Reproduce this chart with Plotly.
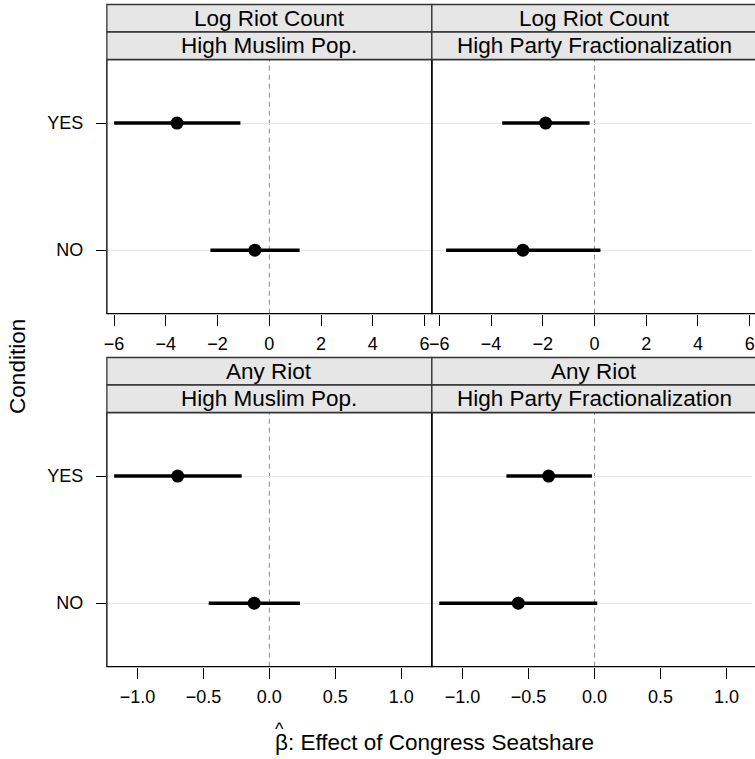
import plotly.graph_objects as go

# ---------------- data ----------------
panel_outcomes = ["Log Riot Count", "Log Riot Count", "Any Riot", "Any Riot"]
panel_conditions = ["High Muslim Pop.", "High Party Fractionalization",
                    "High Muslim Pop.", "High Party Fractionalization"]
levels = ["NO", "YES"]

est_no = [-0.56, -2.77, -0.115, -0.578]
lo_no = [-2.28, -5.74, -0.46, -1.177]
hi_no = [1.17, 0.23, 0.232, 0.02]

est_yes = [-3.57, -1.89, -0.695, -0.348]
lo_yes = [-6.0, -3.57, -1.177, -0.668]
hi_yes = [-1.12, -0.19, -0.21, -0.02]

top_tickvals = [-6, -4, -2, 0, 2, 4, 6]
top_ticktext = ["\u22126", "\u22124", "\u22122", "0", "2", "4", "6"]
bot_tickvals = [-1.0, -0.5, 0.0, 0.5, 1.0]
bot_ticktext = ["\u22121.0", "\u22120.5", "0.0", "0.5", "1.0"]

x_title = "\u03b2: Effect of Congress Seatshare"
y_title = "Condition"

# ---------------- layout geometry (pixels) ----------------
W, H = 755, 759
FONT = "Liberation Sans, Arial, Helvetica, sans-serif"


def fx(px):
    return px / W


def fy(py):
    return 1 - py / H


left_x = (104.7, 432.3)
right_x = (432.3, 755.0)
top_y = (59.5, 313.7)
bot_y = (412.5, 666.7)
strip_h = 27.5

panels = [
    dict(xd=left_x, yd=top_y, rng=[-6.28, 6.28], tv=top_tickvals, tt=top_ticktext, left=True),
    dict(xd=right_x, yd=top_y, rng=[-6.29, 6.09], tv=top_tickvals, tt=top_ticktext, left=False),
    dict(xd=left_x, yd=bot_y, rng=[-1.232, 1.232], tv=bot_tickvals, tt=bot_ticktext, left=True),
    dict(xd=right_x, yd=bot_y, rng=[-1.233, 1.193], tv=bot_tickvals, tt=bot_ticktext, left=False),
]

fig = go.Figure()
shapes = []
annotations = []
layout_axes = {}

for i, p in enumerate(panels):
    sfx = "" if i == 0 else str(i + 1)
    xa, ya = "x" + sfx, "y" + sfx
    # CI segments
    fig.add_trace(go.Scatter(
        x=[lo_no[i], hi_no[i], None, lo_yes[i], hi_yes[i]],
        y=[levels[0], levels[0], None, levels[1], levels[1]],
        mode="lines", line=dict(color="black", width=3.5),
        xaxis=xa, yaxis=ya, showlegend=False, hoverinfo="skip"))
    # point estimates
    fig.add_trace(go.Scatter(
        x=[est_no[i], est_yes[i]], y=levels,
        mode="markers", marker=dict(color="black", size=13),
        xaxis=xa, yaxis=ya, showlegend=False))

    layout_axes["xaxis" + sfx] = dict(
        domain=[fx(p["xd"][0]), fx(p["xd"][1])], anchor=ya, range=p["rng"],
        tickvals=p["tv"], ticktext=p["tt"], ticks="outside", ticklen=11,
        tickcolor="black", tickwidth=1, showgrid=False, zeroline=False,
        showline=False, tickfont=dict(family=FONT, size=18, color="black"),
        ticklabelstandoff=3, ticklabeloverflow="allow", fixedrange=True)
    layout_axes["yaxis" + sfx] = dict(
        domain=[fy(p["yd"][1]), fy(p["yd"][0])], anchor=xa, type="category",
        categoryorder="array", categoryarray=levels, range=[-0.5, 1.5],
        showgrid=True, gridcolor="#e6e6e6", gridwidth=1, zeroline=False,
        showline=False, ticks="outside" if p["left"] else "",
        ticklen=10, tickcolor="black", tickwidth=1,
        showticklabels=p["left"], ticklabelstandoff=9,
        tickfont=dict(family=FONT, size=18, color="black"), fixedrange=True)

    # dashed zero reference line
    shapes.append(dict(type="line", xref=xa, yref="paper", x0=0, x1=0,
                       y0=fy(p["yd"][1]), y1=fy(p["yd"][0]),
                       line=dict(color="#8c8c8c", width=1, dash="5px,4px"), layer="below"))

    # panel border (right side of right panels is past the page edge)
    x1 = p["xd"][1] if p["left"] else 770
    shapes.append(dict(type="rect", xref="paper", yref="paper",
                       x0=fx(p["xd"][0]), x1=fx(x1), y0=fy(p["yd"][1]), y1=fy(p["yd"][0]),
                       line=dict(color="black", width=1.3), layer="above"))

    # strips
    texts = [panel_outcomes[i], panel_conditions[i]]
    for k in range(2):
        s_top = p["yd"][0] - strip_h * (2 - k)
        s_bot = s_top + strip_h
        shapes.append(dict(type="rect", xref="paper", yref="paper",
                           x0=fx(p["xd"][0]), x1=fx(x1), y0=fy(s_bot), y1=fy(s_top),
                           fillcolor="#e6e6e6", line=dict(color="#333333", width=1.3),
                           layer="above"))
        cx = (p["xd"][0] + (p["xd"][1] if p["left"] else 760)) / 2
        annotations.append(dict(xref="paper", yref="paper", x=fx(cx), y=fy((s_top + s_bot) / 2),
                                text=texts[k], showarrow=False, xanchor="center", yanchor="middle",
                                font=dict(family=FONT, size=22.5, color="black")))

# axis titles
annotations.append(dict(xref="paper", yref="paper", x=fx(272), y=fy(742), text=x_title,
                        showarrow=False, xanchor="left", yanchor="middle",
                        font=dict(family=FONT, size=22.5, color="black")))
annotations.append(dict(xref="paper", yref="paper", x=fx(279), y=fy(729), text="^",
                        showarrow=False, xanchor="center", yanchor="middle",
                        font=dict(family=FONT, size=18, color="black")))
annotations.append(dict(xref="paper", yref="paper", x=fx(14), y=fy(366), text=y_title,
                        showarrow=False, xanchor="center", yanchor="middle", textangle=-90,
                        font=dict(family=FONT, size=22.5, color="black")))

fig.update_layout(
    width=W, height=H, autosize=False,
    margin=dict(l=0, r=0, t=0, b=0, pad=0),
    paper_bgcolor="white", plot_bgcolor="white",
    shapes=shapes, annotations=annotations,
    font=dict(family=FONT, color="black"),
    **layout_axes)

fig.write_html("out.html", config={"displayModeBar": False},
               post_script="document.body.style.margin='0px';document.body.style.overflow='hidden';")
